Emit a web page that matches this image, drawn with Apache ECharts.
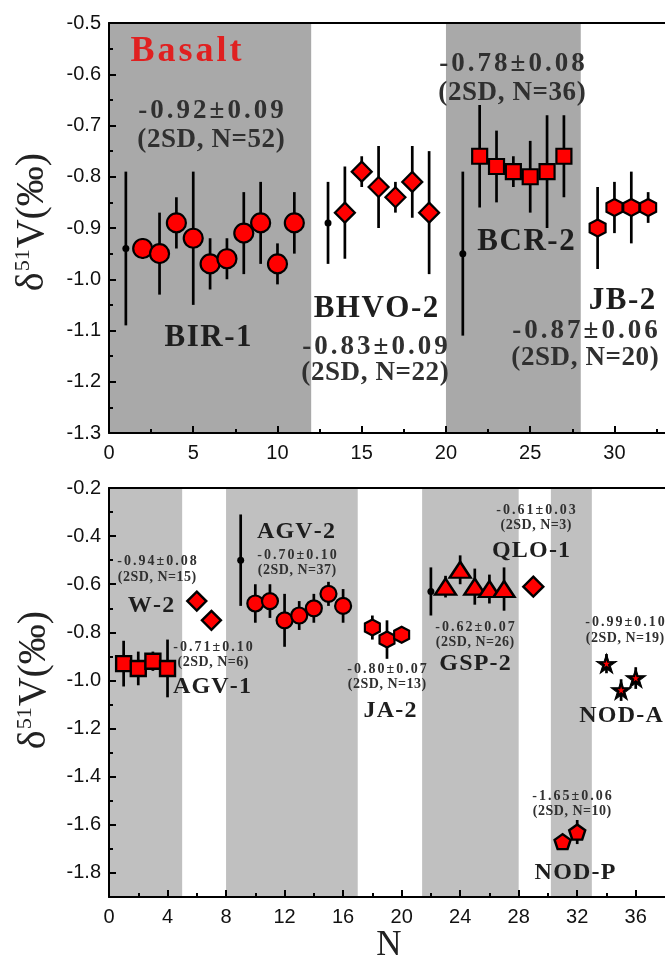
<!DOCTYPE html>
<html><head><meta charset="utf-8">
<script src="https://cdn.jsdelivr.net/npm/echarts@6/dist/echarts.min.js"></script>
<style>html,body{margin:0;padding:0;background:#fff}#c{width:665px;height:960px}</style>
</head><body><div id="c"></div>
<script>
// ---------------- DATA (top panel: Basalt) ----------------
const topRefX = [1, 13, 21];
const topRefY = [-0.94, -0.89, -0.95];
const topRefErr = [0.15, 0.08, 0.16];

const bir1X = [2, 3, 4, 5, 6, 7, 8, 9, 10, 11];
const bir1Y = [-0.94, -0.95, -0.89, -0.92, -0.97, -0.96, -0.91, -0.89, -0.97, -0.89];
const bir1Err = [0.02, 0.08, 0.05, 0.13, 0.05, 0.04, 0.08, 0.08, 0.04, 0.06];

const bhvo2X = [14, 15, 16, 17, 18, 19];
const bhvo2Y = [-0.87, -0.79, -0.82, -0.84, -0.81, -0.87];
const bhvo2Err = [0.09, 0.03, 0.08, 0.03, 0.07, 0.12];

const bcr2X = [22, 23, 24, 25, 26, 27];
const bcr2Y = [-0.76, -0.78, -0.79, -0.80, -0.79, -0.76];
const bcr2Err = [0.10, 0.07, 0.03, 0.07, 0.11, 0.08];

const jb2X = [29, 30, 31, 32];
const jb2Y = [-0.90, -0.86, -0.86, -0.86];
const jb2Err = [0.08, 0.05, 0.07, 0.03];

const topBands = [[0, 12], [20, 28]];
const topXTicks = [0, 5, 10, 15, 20, 25, 30];
const topXMinor = [2.5, 7.5, 12.5, 17.5, 22.5, 27.5, 32.5];
const topYTicks = [-1.3, -1.2, -1.1, -1.0, -0.9, -0.8, -0.7, -0.6, -0.5];
const topYMinor = [-1.25, -1.15, -1.05, -0.95, -0.85, -0.75, -0.65, -0.55];

// ---------------- DATA (bottom panel) ----------------
const botRefX = [9, 22];
const botRefY = [-0.50, -0.63];
const botRefErr = [0.19, 0.10];

const agv1X = [1, 2, 3, 4];
const agv1Y = [-0.93, -0.95, -0.92, -0.95];
const agv1Err = [0.095, 0.07, 0.04, 0.12];

const w2X = [6, 7];
const w2Y = [-0.67, -0.75];
const w2Err = [0.02, 0.02];

const agv2X = [10, 11, 12, 13, 14, 15, 16];
const agv2Y = [-0.68, -0.67, -0.75, -0.73, -0.70, -0.64, -0.69];
const agv2Err = [0.08, 0.07, 0.11, 0.06, 0.06, 0.05, 0.07];

const ja2X = [18, 19, 20];
const ja2Y = [-0.78, -0.83, -0.81];
const ja2Err = [0.05, 0.08, 0.02];

const gsp2X = [23, 24, 25, 26, 27];
const gsp2Y = [-0.61, -0.54, -0.61, -0.62, -0.62];
const gsp2Err = [0.045, 0.06, 0.075, 0.06, 0.09];

const qlo1X = [29];
const qlo1Y = [-0.61];
const qlo1Err = [0.02];

const nodpX = [31, 32];
const nodpY = [-1.67, -1.63];
const nodpErr = [0.02, 0.05];

const nodaX = [34, 35, 36];
const nodaY = [-0.93, -1.04, -0.99];
const nodaErr = [0.04, 0.045, 0.045];

const botBands = [[0, 5], [8, 17], [21.4, 28], [30.2, 33]];
const botXTicks = [0, 4, 8, 12, 16, 20, 24, 28, 32, 36];
const botXMinor = [2, 6, 10, 14, 18, 22, 26, 30, 34];
const botYTicks = [-1.8, -1.6, -1.4, -1.2, -1.0, -0.8, -0.6, -0.4, -0.2];
const botYMinor = [-1.9, -1.7, -1.5, -1.3, -1.1, -0.9, -0.7, -0.5, -0.3];

// ---------------- STYLE / HELPERS ----------------
const SERIF = '"Liberation Serif","Times New Roman",serif';
const SANS = '"Liberation Sans",Arial,sans-serif';
const RED = '#ff0000';

const HEX = 'path://M0,-1 L0.866,-0.5 L0.866,0.5 L0,1 L-0.866,0.5 L-0.866,-0.5 Z';
const PENT = 'path://M0,-1 L0.951,-0.309 L0.588,0.809 L-0.588,0.809 L-0.951,-0.309 Z';
const STAR = 'path://M0,-1 L0.2245,-0.309 L0.951,-0.309 L0.363,0.118 L0.588,0.809 L0,0.382 L-0.588,0.809 L-0.363,0.118 L-0.951,-0.309 L-0.2245,-0.309 Z';

function zip3(xs, ys, es) { return xs.map((x, i) => [x, ys[i], es[i]]); }

function errSeries(xs, ys, es, g) {
  return {
    type: 'custom', xAxisIndex: g === 0 ? 0 : 3, yAxisIndex: g === 0 ? 0 : 2, z: 3,
    data: zip3(xs, ys, es), silent: true,
    renderItem: function (params, api) {
      const x = api.value(0), y = api.value(1), e = api.value(2);
      const a = api.coord([x, y + e]), b = api.coord([x, y - e]);
      return { type: 'line', shape: { x1: a[0], y1: a[1], x2: b[0], y2: b[1] },
        style: { stroke: '#000', lineWidth: 2.7 } };
    }
  };
}
function markSeries(xs, ys, g, symbol, size, color, border) {
  return {
    type: 'scatter', xAxisIndex: g === 0 ? 0 : 3, yAxisIndex: g === 0 ? 0 : 2, z: 4,
    data: xs.map((x, i) => [x, ys[i]]), symbol: symbol, symbolSize: size, silent: true,
    itemStyle: { color: color, borderColor: '#000', borderWidth: border, opacity: 1 }
  };
}
function bandSeries(bands, g, color) {
  const yr = g === 0 ? [-1.3, -0.5] : [-1.9, -0.2];
  return {
    type: 'custom', xAxisIndex: g === 0 ? 0 : 3, yAxisIndex: g === 0 ? 0 : 2, z: 1, silent: true,
    data: bands, encode: { x: [0, 1] },
    renderItem: function (params, api) {
      const p0 = api.coord([api.value(0), yr[1]]);
      const p1 = api.coord([api.value(1), yr[0]]);
      return { type: 'rect', shape: { x: p0[0], y: p0[1], width: p1[0] - p0[0], height: p1[1] - p0[1] },
        style: { fill: color } };
    }
  };
}

function mainX(g, min, max, ticks) {
  return { type: 'value', gridIndex: g, min: min, max: max, position: 'bottom', z: 10,
    axisLine: { show: true, onZero: false, lineStyle: { color: '#000', width: 2 } },
    axisTick: { show: true, inside: true, length: 7, customValues: ticks, lineStyle: { color: '#000', width: 2 } },
    axisLabel: { show: true, customValues: ticks, margin: 10, fontFamily: SANS, fontSize: 20, color: '#111' },
    splitLine: { show: false } };
}
function minorX(g, min, max, ticks) {
  return { type: 'value', gridIndex: g, min: min, max: max, position: 'bottom', z: 10,
    axisLine: { show: false, onZero: false },
    axisTick: { show: true, inside: true, length: 4, customValues: ticks, lineStyle: { color: '#000', width: 2 } },
    axisLabel: { show: false }, splitLine: { show: false } };
}
function frameX(g, min, max) {
  return { type: 'value', gridIndex: g, min: min, max: max, position: 'top', z: 10,
    axisLine: { show: true, onZero: false, lineStyle: { color: '#000', width: 2 } },
    axisTick: { show: false }, axisLabel: { show: false }, splitLine: { show: false } };
}
function mainY(g, min, max, ticks) {
  return { type: 'value', gridIndex: g, min: min, max: max, position: 'left', z: 10,
    axisLine: { show: true, onZero: false, lineStyle: { color: '#000', width: 2 } },
    axisTick: { show: true, inside: true, length: 7, customValues: ticks, lineStyle: { color: '#000', width: 2 } },
    axisLabel: { show: true, customValues: ticks, margin: 8, fontFamily: SANS, fontSize: 20, color: '#111',
      formatter: v => v.toFixed(1) },
    splitLine: { show: false } };
}
function minorY(g, min, max, ticks) {
  return { type: 'value', gridIndex: g, min: min, max: max, position: 'left', z: 10,
    axisLine: { show: false, onZero: false },
    axisTick: { show: true, inside: true, length: 4, customValues: ticks, lineStyle: { color: '#000', width: 2 } },
    axisLabel: { show: false }, splitLine: { show: false } };
}

function spaced(str) { return str.split('').map(c => '{k|' + c + '}').join(''); }
function txt(text, x, y, size, spacing, color, weight) {
  return { type: 'text', x: x, y: y, z: 100, silent: true,
    style: { text: spaced(text), align: 'center', verticalAlign: 'middle',
      fontFamily: SERIF, fontSize: size, fontWeight: weight || 'bold', fill: color,
      rich: { k: { fontFamily: SERIF, fontSize: size, fontWeight: weight || 'bold', fill: color,
        padding: [0, spacing / 2, 0, spacing / 2] } } } };
}
function yTitle(x, y) {
  return { type: 'text', x: x, y: y, rotation: Math.PI / 2, z: 100, silent: true,
    style: { text: '{d|δ}{s|51}{d|V(‰)}', align: 'center', verticalAlign: 'middle',
      fontFamily: SERIF, fontSize: 40, fill: '#222',
      rich: { d: { fontFamily: SERIF, fontSize: 40, fill: '#222', lineHeight: 44, verticalAlign: 'bottom' },
              s: { fontFamily: SERIF, fontSize: 22, fill: '#222', lineHeight: 44, verticalAlign: 'top', padding: [4, 1, 0, 1] } } } };
}

// annotation layout (pixel anchors for text)
const NAME = '#1e1e1e', VAL = '#303030';
const annotations = [
  txt('Basalt', 186, 52, 36, 3, '#e02020'),
  txt('-0.92±0.09', 211, 111, 27, 3, VAL),
  txt('(2SD, N=52)', 211, 140, 27, 0.6, VAL),
  txt('BIR-1', 208, 338, 31, 1.5, NAME),
  txt('BHVO-2', 376, 309, 31, 1.5, NAME),
  txt('-0.83±0.09', 375, 347, 27, 3, VAL),
  txt('(2SD, N=22)', 375, 373, 27, 0.6, VAL),
  txt('-0.78±0.08', 512, 64, 27, 3, VAL),
  txt('(2SD, N=36)', 512, 93, 27, 0.6, VAL),
  txt('BCR-2', 526, 242, 31, 1.5, NAME),
  txt('JB-2', 622, 301, 31, 1.5, NAME),
  txt('-0.87±0.06', 585, 331, 27, 3, VAL),
  txt('(2SD, N=20)', 585, 358, 27, 0.6, VAL),

  txt('-0.94±0.08', 157, 561, 14, 2, VAL),
  txt('(2SD, N=15)', 157, 577, 14, 0.5, VAL),
  txt('W-2', 151, 606, 24, 1.2, NAME),
  txt('-0.71±0.10', 213, 647, 14, 2, VAL),
  txt('(2SD, N=6)', 213, 662, 14, 0.5, VAL),
  txt('AGV-1', 212, 687, 24, 1.2, NAME),
  txt('AGV-2', 296, 532, 24, 1.2, NAME),
  txt('-0.70±0.10', 297, 555, 14, 2, VAL),
  txt('(2SD, N=37)', 297, 570, 14, 0.5, VAL),
  txt('-0.80±0.07', 387, 669, 14, 2, VAL),
  txt('(2SD, N=13)', 387, 684, 14, 0.5, VAL),
  txt('JA-2', 390, 711, 24, 1.2, NAME),
  txt('-0.62±0.07', 475, 627, 14, 2, VAL),
  txt('(2SD, N=26)', 475, 642, 14, 0.5, VAL),
  txt('GSP-2', 475, 664, 24, 1.2, NAME),
  txt('-0.61±0.03', 536, 510, 14, 2, VAL),
  txt('(2SD, N=3)', 536, 525, 14, 0.5, VAL),
  txt('QLO-1', 531, 551, 24, 1.2, NAME),
  txt('-0.99±0.10', 625, 622, 14, 2, VAL),
  txt('(2SD, N=19)', 625, 638, 14, 0.5, VAL),
  txt('NOD-A', 621, 716, 24, 1.2, NAME),
  txt('-1.65±0.06', 572, 796, 14, 2, VAL),
  txt('(2SD, N=10)', 572, 811, 14, 0.5, VAL),
  txt('NOD-P', 575, 873, 24, 1.2, NAME),

  yTitle(30, 222),
  yTitle(32, 680),
  txt('N', 389, 946, 35, 0, '#222', 'normal')
];

const option = {
  animation: false,
  backgroundColor: '#fff',
  grid: [
    { left: 109, top: 23, width: 557, height: 410 },
    { left: 109, top: 488, width: 557, height: 409 }
  ],
  xAxis: [
    mainX(0, 0, 33, topXTicks), minorX(0, 0, 33, topXMinor), frameX(0, 0, 33),
    mainX(1, 0, 38, botXTicks), minorX(1, 0, 38, botXMinor), frameX(1, 0, 38)
  ],
  yAxis: [
    mainY(0, -1.3, -0.5, topYTicks), minorY(0, -1.3, -0.5, topYMinor),
    mainY(1, -1.9, -0.2, botYTicks), minorY(1, -1.9, -0.2, botYMinor)
  ],
  series: [
    bandSeries(topBands, 0, '#a9a9a9'),
    bandSeries(botBands, 1, '#c0c0c0'),
    // top error bars
    errSeries(topRefX, topRefY, topRefErr, 0),
    errSeries(bir1X, bir1Y, bir1Err, 0),
    errSeries(bhvo2X, bhvo2Y, bhvo2Err, 0),
    errSeries(bcr2X, bcr2Y, bcr2Err, 0),
    errSeries(jb2X, jb2Y, jb2Err, 0),
    // top markers
    markSeries(topRefX, topRefY, 0, 'circle', 7, '#000', 0),
    markSeries(bir1X, bir1Y, 0, 'circle', 19, RED, 2.2),
    markSeries(bhvo2X, bhvo2Y, 0, 'diamond', [20, 20], RED, 2.2),
    markSeries(bcr2X, bcr2Y, 0, 'rect', 15, RED, 2.2),
    markSeries(jb2X, jb2Y, 0, HEX, [16, 17], RED, 2.2),
    // bottom error bars
    errSeries(botRefX, botRefY, botRefErr, 1),
    errSeries(agv1X, agv1Y, agv1Err, 1),
    errSeries(w2X, w2Y, w2Err, 1),
    errSeries(agv2X, agv2Y, agv2Err, 1),
    errSeries(ja2X, ja2Y, ja2Err, 1),
    errSeries(gsp2X, gsp2Y, gsp2Err, 1),
    errSeries(qlo1X, qlo1Y, qlo1Err, 1),
    errSeries(nodpX, nodpY, nodpErr, 1),
    errSeries(nodaX, nodaY, nodaErr, 1),
    // bottom markers
    markSeries(botRefX, botRefY, 1, 'circle', 7, '#000', 0),
    markSeries(agv1X, agv1Y, 1, 'rect', 15, RED, 2.4),
    markSeries(w2X, w2Y, 1, 'diamond', [19, 19], RED, 2.4),
    markSeries(agv2X, agv2Y, 1, 'circle', 16, RED, 2.2),
    markSeries(ja2X, ja2Y, 1, HEX, [15, 16], RED, 2.2),
    markSeries(gsp2X, gsp2Y, 1, 'triangle', [21, 16], RED, 2.4),
    markSeries(qlo1X, qlo1Y, 1, 'diamond', [20, 20], RED, 2.4),
    markSeries(nodpX, nodpY, 1, PENT, [16, 15], RED, 2.4),
    markSeries(nodaX, nodaY, 1, STAR, [20, 19], '#000', 1),
    markSeries(nodaX, nodaY, 1, STAR, [7, 7], RED, 0)
  ],
  graphic: { elements: annotations }
};

const chart = echarts.init(document.getElementById('c'), null, { renderer: 'canvas' });
chart.setOption(option);
</script></body></html>
